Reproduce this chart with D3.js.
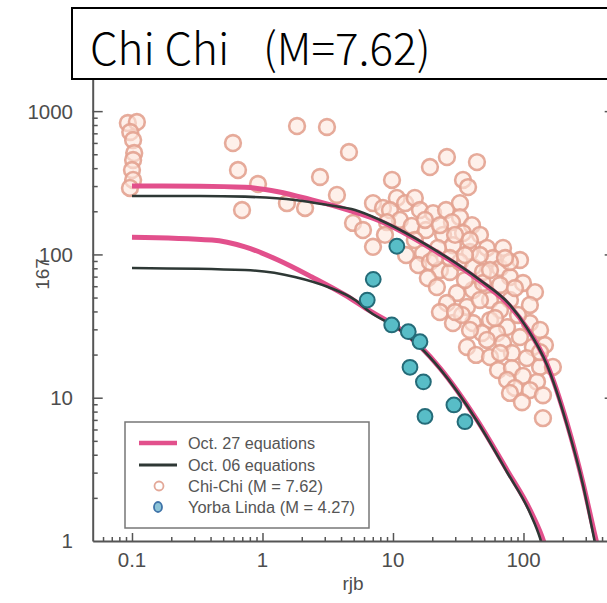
<!DOCTYPE html>
<html><head><meta charset="utf-8">
<script src="https://cdn.jsdelivr.net/npm/d3@7"></script>
<style>html,body{margin:0;padding:0;background:#fff;} svg{display:block;}</style>
</head><body>
<svg id="chart" width="607" height="603"></svg>
<script>
// ---------- DATA ----------
const titleMain = "Chi Chi";
const titleMag = "(M=7.62)";
const xAxisLabel = "rjb";
const yAxisLabel = "167";
const xTicksMajor = [0.1, 1, 10, 100];
const xTickLabels = ["0.1", "1", "10", "100"];
const xTicksMinor = [0.06,0.07,0.08,0.09,0.2,0.3,0.4,0.5,0.6,0.7,0.8,0.9,2,3,4,5,6,7,8,9,20,30,40,50,60,70,80,90,200,300,400,500];
const yTicksMajor = [1, 10, 100, 1000];
const yTickLabels = ["1", "10", "100", "1000"];
const yTicksMinor = [2,3,4,5,6,7,8,9,20,30,40,50,60,70,80,90,200,300,400,500,600,700,800,900];
const legendLabels = ["Oct. 27 equations", "Oct. 06 equations", "Chi-Chi (M = 7.62)", "Yorba Linda (M = 4.27)"];

// Oct. 27 equations (pink), Chi-Chi curve
const oct27ChiRjb = [0.1, 0.332, 0.734, 1.315, 2.39, 4.29, 7.95, 19.21, 46.4, 78.8, 106.4, 151.4, 215.4, 285.7, 347, 372];
const oct27ChiVal = [300, 299, 294, 274, 240, 207, 171, 111, 65.2, 43.6, 30.6, 17.2, 6.66, 2.54, 1.17, 0.894];
// Oct. 06 equations (black), Chi-Chi curve
const oct06ChiRjb = [0.1, 0.332, 0.734, 1.77, 3.18, 5.12, 7.95, 19.21, 46.4, 78.8, 106.4, 151.4, 215.4, 285.7, 340.9, 359.4];
const oct06ChiVal = [256, 256, 253, 240, 221, 204, 174, 113, 66.3, 44.4, 30.6, 16.9, 6.45, 2.46, 1.137, 0.894];
// Oct. 27 equations (pink), Yorba Linda curve
const oct27YorRjb = [0.1, 0.41, 0.734, 1.315, 2.39, 4.29, 6.66, 11.31, 16.1, 22.92, 44.0, 74.7, 112.2, 138.7, 148.7];
const oct27YorVal = [132, 126, 113, 91.4, 69.6, 52.1, 40.3, 30.2, 22.9, 16.1, 7.0, 3.13, 1.65, 1.07, 0.89];
// Oct. 06 equations (black), Yorba Linda curve
const oct06YorRjb = [0.1, 0.734, 1.77, 3.18, 5.12, 6.66, 11.31, 16.1, 22.92, 44.0, 74.7, 112.2, 133.8, 141];
const oct06YorVal = [80.4, 77.8, 69.6, 59.2, 48.1, 39.6, 29.7, 22.6, 15.9, 6.88, 3.03, 1.57, 1.05, 0.89];

// Chi-Chi records
const chiChiRjb = [0.093,0.109,0.097,0.102,0.104,0.102,0.100,0.102,0.0965,
  0.594,0.649,0.924,0.697,1.84,3.12,4.60,2.76,3.72,1.54,2.12,4.94,5.89,7.03,
  19.2,25.9,44.0,9.83,34.4,37.6,
  7.03,8.38,10.7,12.4,14.7,32.6,9.48,16.1,20.3,25.5,32.6,11.3,13.9,9.0,40.3,28.3,17.9,24.2,34.4,46.4,8.68,
  12.6,17.0,28.8,38.9,52.5,69.7,22.1,15.6,19.2,22.9,27.3,32.6,41.0,48.9,58.4,66.1,78.8,94.0,99.1,
  18.5,21.7,30.9,41.0,55.4,78.8,25.9,36.9,66.1,122.5,48.9,66.1,112,22.9,28.8,41.0,55.4,74.8,112,33.8,90.8,
  48.1,62.7,134,36.9,52.5,69.7,94.0,118,43.3,146,81.6,55.4,106,134,168,63.8,81.6,74.8,99.1,127,86.1,78.8,112,141,97.4,141,
  14.7,27.3,35.6,46.4,78.8,
  17.6,22.9,29.9,38.9,21.0,35.6,55.4,72.2,86.1,46.4,29.9,38.9,60.5,134,66.1];
const chiChiVal = [826,839,715,629,510,456,388,331,291,
  599,388,310,204,787,775,518,347,260,228,211,166,148,113,
  407,478,441,331,331,295,
  228,211,248,228,248,228,204,204,194,204,182,174,158,168,160,168,148,137,141,137,137,
  99,102,116,104,111,111,111,84.3,88.5,77.8,75.4,88.5,81.7,75.4,94.4,80.4,69.6,91.4,63.2,
  68.4,59.2,53.8,56.4,48.1,48.1,45.8,43.0,61.2,54.6,63.2,40.9,44.4,39.6,33.2,33.2,34.8,31.1,33.2,37.8,37.8,
  28.3,28.3,29.7,22.6,25.3,24.1,26.5,22.6,19.9,23.3,20.5,19.2,18.9,16.4,16.4,15.6,16.1,13.3,14.2,12.9,11.7,10.8,11.3,10.4,9.3,7.2,
  126,94.4,66.3,99,88.5,
  174,160,137,126,94.4,99,77.8,94.4,58.3,48.1,39.6,29.7,36.0,20.8,20.5];

// Yorba Linda records
const yorbaRjb = [10.7, 7.06, 6.35, 9.78, 13.1, 16.1, 13.5, 17.1, 29.3, 17.6, 35.6];
const yorbaVal = [114, 67, 48, 32.2, 28.9, 24.6, 16.3, 12.9, 8.9, 7.4, 6.8];

// ---------- DRAW ----------
const svg = d3.select("#chart");
const W = 607, H = 603;
const plotL = 92.7, plotR = 614.7, plotB = 541, plotT = 68;
const x = d3.scaleLog().domain([0.05, 500]).range([plotL, plotR]);
const y = d3.scaleLog().domain([1, 2000]).range([plotB, plotT]);
const axisCol = "#555";
const labelFont = "'Liberation Sans', Arial, sans-serif";

svg.append("rect").attr("width", W).attr("height", H).attr("fill", "#fff");

svg.append("defs").append("clipPath").attr("id", "clip")
  .append("rect").attr("x", plotL).attr("y", plotT).attr("width", plotR - plotL).attr("height", plotB - plotT);

const plot = svg.append("g").attr("clip-path", "url(#clip)");

// Chi-Chi points
plot.append("g").selectAll("circle").data(chiChiRjb.map((r, i) => [r, chiChiVal[i]]))
  .join("circle")
  .attr("cx", d => x(d[0])).attr("cy", d => y(d[1])).attr("r", 7.9)
  .attr("fill", "#fde6dc").attr("fill-opacity", 0.6)
  .attr("stroke", "#e3a290").attr("stroke-opacity", 0.9).attr("stroke-width", 2.6);

// Curves
const line = d3.line().x(d => x(d[0])).y(d => y(d[1])).curve(d3.curveMonotoneX);
const pinkCol = "#e2508c", blackCol = "#2e3835";
function drawCurve(rjb, val, col, w) {
  plot.append("path").datum(rjb.map((r, i) => [r, val[i]]))
    .attr("d", line).attr("fill", "none").attr("stroke", col).attr("stroke-width", w)
    .attr("stroke-linecap", "butt");
}
drawCurve(oct27ChiRjb, oct27ChiVal, pinkCol, 5);
drawCurve(oct27YorRjb, oct27YorVal, pinkCol, 5);
drawCurve(oct06ChiRjb, oct06ChiVal, blackCol, 2.6);
drawCurve(oct06YorRjb, oct06YorVal, blackCol, 2.6);

// Yorba Linda points
plot.append("g").selectAll("circle").data(yorbaRjb.map((r, i) => [r, yorbaVal[i]]))
  .join("circle")
  .attr("cx", d => x(d[0])).attr("cy", d => y(d[1])).attr("r", 7.4)
  .attr("fill", "#58bdc7").attr("stroke", "#246b78").attr("stroke-width", 2);

// Axes
function styleAxis(g, w) {
  g.selectAll("line").attr("stroke", axisCol).attr("stroke-width", 1.5);
  g.selectAll(".domain").attr("stroke", axisCol).attr("stroke-width", w);
  g.selectAll("text").remove();
}
svg.append("g").attr("transform", `translate(0,${plotB})`)
  .call(d3.axisBottom(x).tickValues(xTicksMinor).tickSize(-4).tickSizeOuter(0).tickFormat(""))
  .call(g => g.select(".domain").remove()).call(g => styleAxis(g, 2));
svg.append("g").attr("transform", `translate(0,${plotB})`)
  .call(d3.axisBottom(x).tickValues(xTicksMajor).tickSize(-8).tickSizeOuter(0).tickFormat(""))
  .call(g => styleAxis(g, 2));
svg.append("g").attr("transform", `translate(${plotL},0)`)
  .call(d3.axisLeft(y).tickValues(yTicksMinor).tickSize(-5).tickSizeOuter(0).tickFormat(""))
  .call(g => g.select(".domain").remove()).call(g => styleAxis(g, 2));
svg.append("g").attr("transform", `translate(${plotL},0)`)
  .call(d3.axisLeft(y).tickValues(yTicksMajor.slice(1)).tickSize(-10).tickSizeOuter(0).tickFormat(""))
  .call(g => styleAxis(g, 2));
svg.append("g").attr("transform", `translate(${plotR},0)`)
  .call(d3.axisRight(y).tickValues(yTicksMajor.slice(1)).tickSize(-10).tickSizeOuter(0).tickFormat(""))
  .call(g => styleAxis(g, 2));

// Tick labels
svg.append("g").selectAll("text").data(xTicksMajor).join("text")
  .attr("x", d => x(d)).attr("y", 567).attr("text-anchor", "middle")
  .attr("font-family", labelFont).attr("font-size", 20.5).attr("fill", "#4d4d4d")
  .text((d, i) => xTickLabels[i]);
svg.append("g").selectAll("text").data(yTicksMajor).join("text")
  .attr("x", 73).attr("y", d => y(d)).attr("dy", "0.36em").attr("text-anchor", "end")
  .attr("font-family", labelFont).attr("font-size", 20.5).attr("fill", "#4d4d4d")
  .text((d, i) => yTickLabels[i]);

svg.append("text").attr("x", x(10) - 40).attr("y", 590).attr("text-anchor", "middle")
  .attr("font-family", labelFont).attr("font-size", 19).attr("fill", "#4d4d4d").text(xAxisLabel);
svg.append("text").attr("transform", "translate(49,274) rotate(-90)").attr("text-anchor", "middle")
  .attr("font-family", labelFont).attr("font-size", 19).attr("fill", "#4d4d4d").text(yAxisLabel);

// Legend
const lg = svg.append("g");
lg.append("rect").attr("x", 125).attr("y", 422).attr("width", 244).attr("height", 106)
  .attr("fill", "#fff").attr("stroke", "#777").attr("stroke-width", 1.5);
const rowY = [443, 465, 486, 507];
lg.append("line").attr("x1", 139).attr("x2", 177).attr("y1", rowY[0]).attr("y2", rowY[0])
  .attr("stroke", pinkCol).attr("stroke-width", 4.5);
lg.append("line").attr("x1", 139).attr("x2", 177).attr("y1", rowY[1]).attr("y2", rowY[1])
  .attr("stroke", blackCol).attr("stroke-width", 3);
lg.append("circle").attr("cx", 159).attr("cy", rowY[2]).attr("r", 4.5)
  .attr("fill", "#fff").attr("stroke", "#e3a898").attr("stroke-width", 1.8);
lg.append("ellipse").attr("cx", 158).attr("cy", rowY[3]).attr("rx", 4).attr("ry", 5)
  .attr("fill", "#8cc4d8").attr("stroke", "#3f73a8").attr("stroke-width", 1.8);
const legW = [127, 127, 135, 167];
lg.selectAll("text.leg").data(legendLabels).join("text").attr("class", "leg")
  .attr("x", 188).attr("y", (d, i) => rowY[i] + 5.5)
  .attr("font-family", "'Liberation Sans Narrow', 'Arial Narrow', 'Liberation Sans', sans-serif")
  .attr("font-size", 16).attr("fill", "#555")
  .attr("textLength", (d, i) => legW[i]).attr("lengthAdjust", "spacingAndGlyphs")
  .text(d => d);

// Title box
const tg = svg.append("g");
tg.append("rect").attr("x", 72).attr("y", 8).attr("width", 560).attr("height", 71)
  .attr("fill", "#fff").attr("stroke", "#000").attr("stroke-width", 2);
const tt = tg.append("text").attr("y", 65).attr("font-family", "'Noto Sans CJK JP', 'Noto Sans', sans-serif")
  .attr("font-size", 44).attr("font-weight", 300).attr("fill", "#000");
tt.append("tspan").attr("x", 90).text(titleMain);
tt.append("tspan").attr("x", 263).text(titleMag);
</script>
</body></html>
